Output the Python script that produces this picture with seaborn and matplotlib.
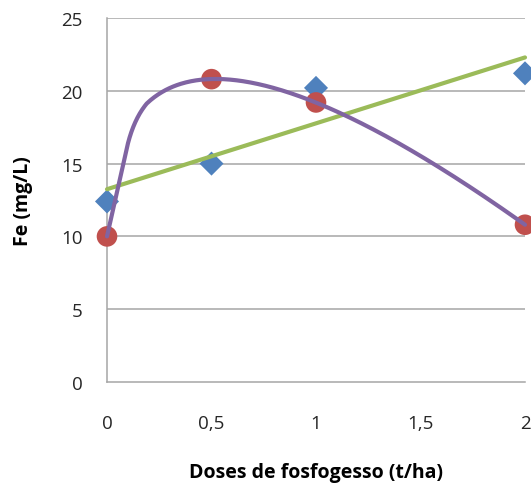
import numpy as np
import pandas as pd
import matplotlib
matplotlib.use("Agg")
import matplotlib.pyplot as plt
import seaborn as sns

# Doses of phosphogypsum (t/ha) and measured Fe (mg/L)
doses = [0, 0.5, 1, 2]
fe_series_a = [12.4, 15.0, 20.2, 21.2]   # blue diamonds, linear trend
fe_series_b = [10.0, 20.8, 19.2, 10.8]   # red circles, square-root trend

x_ticks = [0, 0.5, 1, 1.5, 2]
x_tick_labels = ["0", "0,5", "1", "1,5", "2"]
y_ticks = [0, 5, 10, 15, 20, 25]

BLUE = "#4F81BD"
RED = "#C0504D"
GREEN = "#9BBB59"
PURPLE = "#8064A2"
GRID = "#A6A6A6"

sns.set_theme(style="white")
plt.rcParams["font.family"] = ["Open Sans", "DejaVu Sans"]

fig = plt.figure(figsize=(5.31, 4.85), dpi=100)
ax = fig.add_axes([107 / 531, 1 - 383 / 485, 418 / 531, 364 / 485])

x = np.asarray(doses, dtype=float)
ya = np.asarray(fe_series_a)
yb = np.asarray(fe_series_b)

# Linear trend for series A
slope, intercept = np.polyfit(x, ya, 1)
lin_x = np.linspace(0, 2, 50)
lin_df = pd.DataFrame({"x": lin_x, "y": intercept + slope * lin_x})

# Trend y = a + b*sqrt(x) + c*x for series B (least squares).
# The opening step 0 -> 0.125 t/ha is a straight segment whose joint
# with the curve is rounded by a quadratic Bezier.
A = np.column_stack([np.ones_like(x), np.sqrt(x), x])
coef, *_ = np.linalg.lstsq(A, yb, rcond=None)


def trend(v):
    return coef[0] + coef[1] * np.sqrt(v) + coef[2] * v


corner = np.array([0.125, trend(0.125)])
start = np.array([0.0, trend(0.0)])
p_in = start + 0.75 * (corner - start)
p_out = np.array([0.19, trend(0.19)])
t = np.linspace(0, 1, 30)[:, None]
bez = (1 - t) ** 2 * p_in + 2 * (1 - t) * t * corner + t ** 2 * p_out
tail_x = np.linspace(0.19, 2, 300)[1:]
curve_x = np.concatenate([[start[0]], bez[:, 0], tail_x])
curve_y = np.concatenate([[start[1]], bez[:, 1], trend(tail_x)])
sqrt_df = pd.DataFrame({"x": curve_x, "y": curve_y})

pts_a = pd.DataFrame({"x": x, "y": ya})
pts_b = pd.DataFrame({"x": x, "y": yb})

for yv in y_ticks[1:]:
    ax.axhline(yv, color=GRID, lw=1.1, zorder=0)

sns.scatterplot(data=pts_a, x="x", y="y", ax=ax, marker="D", s=150,
                color=BLUE, edgecolor="none", zorder=3, clip_on=False)
sns.scatterplot(data=pts_b, x="x", y="y", ax=ax, marker="o", s=220,
                color=RED, edgecolor="none", zorder=3, clip_on=False)
sns.lineplot(data=lin_df, x="x", y="y", ax=ax, color=GREEN, lw=3.0,
             zorder=4, clip_on=False, sort=False)
sns.lineplot(data=sqrt_df, x="x", y="y", ax=ax, color=PURPLE, lw=3.0,
             zorder=5, clip_on=False, sort=False)

ax.set_xlim(0, 2)
ax.set_ylim(0, 25)
ax.set_xticks(x_ticks)
ax.set_xticklabels(x_tick_labels)
ax.set_yticks(y_ticks)
ax.tick_params(axis="both", labelsize=13.5, colors="#262626",
               width=1, color=GRID, direction="out")
ax.tick_params(axis="x", length=6, pad=17)
ax.tick_params(axis="y", length=6.5, pad=11)

for side in ("top", "right"):
    ax.spines[side].set_visible(False)
for side in ("left", "bottom"):
    ax.spines[side].set_color(GRID)
    ax.spines[side].set_linewidth(1.1)

ax.set_xlabel("Doses de fosfogesso (t/ha)", fontsize=14, fontweight="bold",
              color="#000000", labelpad=22)
ax.set_ylabel("Fe (mg/L)", fontsize=14, fontweight="bold", color="#000000",
              labelpad=20)

fig.savefig("out.png", dpi=100)
